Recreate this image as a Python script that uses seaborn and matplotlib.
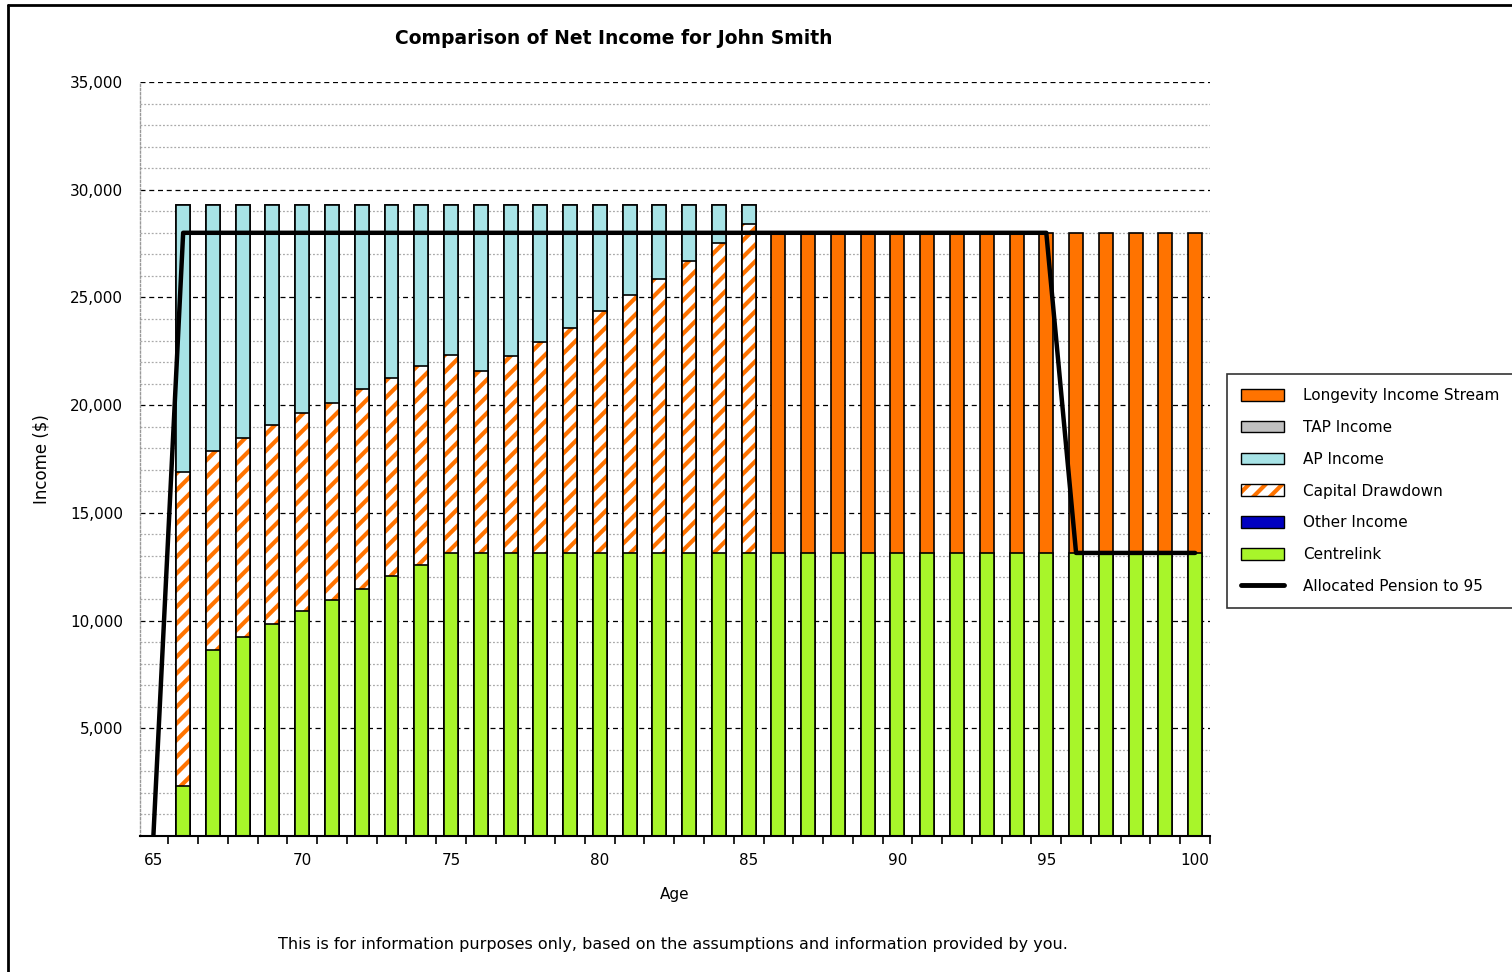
import numpy as np
import pandas as pd
import matplotlib
matplotlib.use("Agg")
import matplotlib.pyplot as plt
import seaborn as sns
from matplotlib.patches import Patch
from matplotlib.lines import Line2D
from matplotlib.ticker import MultipleLocator, FixedLocator, FuncFormatter

# ---- data ----
ages = list(range(65, 101))
bar_ages = list(range(66, 101))

centrelink = [2300, 8650, 9250, 9850, 10450, 10950, 11450, 12050, 12600,
              13140, 13140, 13140, 13140, 13140, 13140, 13140, 13140, 13140, 13140, 13140,
              13140, 13140, 13140, 13140, 13140, 13140, 13140, 13140, 13140, 13140,
              13140, 13140, 13140, 13140, 13140]
capital_drawdown = [14600, 9200, 9230, 9230, 9200, 9150, 9300, 9210, 9220,
                    9190, 8450, 9140, 9790, 10440, 11230, 11980, 12720, 13550, 14390, 15270,
                    0, 0, 0, 0, 0, 0, 0, 0, 0, 0, 0, 0, 0, 0, 0]
ap_income = [12400, 11450, 10820, 10220, 9650, 9200, 8550, 8040, 7480,
             6970, 7710, 7020, 6370, 5720, 4930, 4180, 3440, 2610, 1770, 890,
             0, 0, 0, 0, 0, 0, 0, 0, 0, 0, 0, 0, 0, 0, 0]
longevity = [0] * 20 + [14860] * 15

pension_line = [0] + [28000] * 30 + [13140] * 5

df = pd.DataFrame({
    "Age": bar_ages,
    "Centrelink": centrelink,
    "Capital Drawdown": capital_drawdown,
    "AP Income": ap_income,
    "Longevity Income Stream": longevity,
})
df["cum_draw"] = df["Centrelink"] + df["Capital Drawdown"]
df["cum_ap"] = df["cum_draw"] + df["AP Income"]
df["cum_total"] = df["cum_ap"] + df["Longevity Income Stream"]

line_df = pd.DataFrame({"Age": ages, "Pension": pension_line})

c_orange = "#FF7300"
c_grey = "#C0C0C0"
c_cyan = "#A7E3E6"
c_blue = "#0000C0"
c_green = "#A8F52A"

sns.set_style("white")
plt.rcParams["font.family"] = ["DejaVu Sans"]
plt.rcParams["hatch.linewidth"] = 3.0
for k in ["text.color", "axes.labelcolor", "xtick.color", "ytick.color"]:
    plt.rcParams[k] = "black"

fig = plt.figure(figsize=(15.12, 9.72), dpi=100)
ax = fig.add_axes([140 / 1512, 1 - 836 / 972, (1210 - 140) / 1512, (836 - 82) / 972])

w = 0.47
lw = 1.2
common = dict(x="Age", native_scale=True, width=w, ax=ax, errorbar=None)

# stacked bars drawn as overlapping cumulative totals (tallest first)
sns.barplot(data=df, y="cum_total", color=c_orange, edgecolor="black",
            linewidth=lw, saturation=1, **common)
sns.barplot(data=df[df["AP Income"] > 0], y="cum_ap", color=c_cyan,
            edgecolor="black", linewidth=lw, saturation=1, **common)
sns.barplot(data=df[df["Capital Drawdown"] > 0], y="cum_draw", color="white",
            edgecolor=c_orange, hatch="//", linewidth=0, saturation=1, **common)
sns.barplot(data=df[df["Capital Drawdown"] > 0], y="cum_draw", fill=False,
            edgecolor="black", linewidth=lw, **common)
sns.barplot(data=df, y="Centrelink", color=c_green, edgecolor="black",
            linewidth=lw, saturation=1, **common)

sns.lineplot(data=line_df, x="Age", y="Pension", color="black", linewidth=3.2,
             ax=ax, zorder=5)

ax.set_xlim(64.55, 100.5)
ax.set_ylim(0, 35000)

ax.xaxis.set_major_locator(FixedLocator([65, 70, 75, 80, 85, 90, 95, 100]))
ax.xaxis.set_minor_locator(FixedLocator(np.arange(64.5, 101, 1)))
ax.tick_params(axis="x", which="major", bottom=False, length=0, labelsize=11, pad=12)
ax.tick_params(axis="x", which="minor", bottom=True, length=6, width=1.2,
               color="black", direction="out")

ax.yaxis.set_major_locator(FixedLocator([5000, 10000, 15000, 20000, 25000, 30000, 35000]))
ax.yaxis.set_major_formatter(FuncFormatter(lambda v, p: f"{int(v):,}"))
ax.yaxis.set_minor_locator(MultipleLocator(1000))
ax.tick_params(axis="y", which="both", left=False, length=0, labelsize=11, pad=12)

ax.grid(axis="y", which="major", color="black", linestyle=(0, (4, 3)), linewidth=0.9)
ax.grid(axis="y", which="minor", color="#aaaaaa", linestyle=(0, (1.5, 1.5)), linewidth=0.9)
ax.set_axisbelow(True)

for s in ["top", "right"]:
    ax.spines[s].set_visible(False)
ax.spines["bottom"].set_color("black")
ax.spines["bottom"].set_linewidth(1.5)
ax.spines["left"].set_color("#999999")
ax.spines["left"].set_linestyle((0, (1.5, 1.5)))
ax.spines["left"].set_linewidth(1)

ax.set_xlabel("Age", fontsize=11, labelpad=14)
ax.set_ylabel("Income ($)", fontsize=12, labelpad=14)

fig.text(614 / 1512, 1 - 38 / 972, "Comparison of Net Income for John Smith",
         ha="center", va="center", fontsize=13.5, fontweight="bold")
fig.text(673 / 1512, 1 - 944 / 972,
         "This is for information purposes only, based on the assumptions and information provided by you.",
         ha="center", va="center", fontsize=11.5)

hatch_handle = (Patch(facecolor="white", edgecolor=c_orange, hatch="//", linewidth=0),
                Patch(facecolor="none", edgecolor="black"))
handles = [
    Patch(facecolor=c_orange, edgecolor="black"),
    Patch(facecolor=c_grey, edgecolor="black"),
    Patch(facecolor=c_cyan, edgecolor="black"),
    hatch_handle,
    Patch(facecolor=c_blue, edgecolor="black"),
    Patch(facecolor=c_green, edgecolor="black"),
    Line2D([0], [0], color="black", linewidth=3.5),
]
labels = ["Longevity Income Stream", "TAP Income", "AP Income", "Capital Drawdown",
          "Other Income", "Centrelink", "Allocated Pension to 95"]
leg = fig.legend(handles, labels, loc="center left",
                 bbox_to_anchor=(1227 / 1512, 1 - 491 / 972),
                 fontsize=11, frameon=True, fancybox=False, edgecolor="black",
                 handlelength=2.8, handleheight=0.8, labelspacing=1.1,
                 borderpad=0.9, handletextpad=1.3, borderaxespad=0)
leg.get_frame().set_linewidth(1.2)

# outer frame (left and top edges)
fig.add_artist(Line2D([8 / 1512, 8 / 1512], [0, 1 - 5 / 972], color="black",
                      linewidth=2, transform=fig.transFigure))
fig.add_artist(Line2D([8 / 1512, 1], [1 - 5 / 972, 1 - 5 / 972], color="black",
                      linewidth=2, transform=fig.transFigure))

fig.savefig("out.png", dpi=100)
